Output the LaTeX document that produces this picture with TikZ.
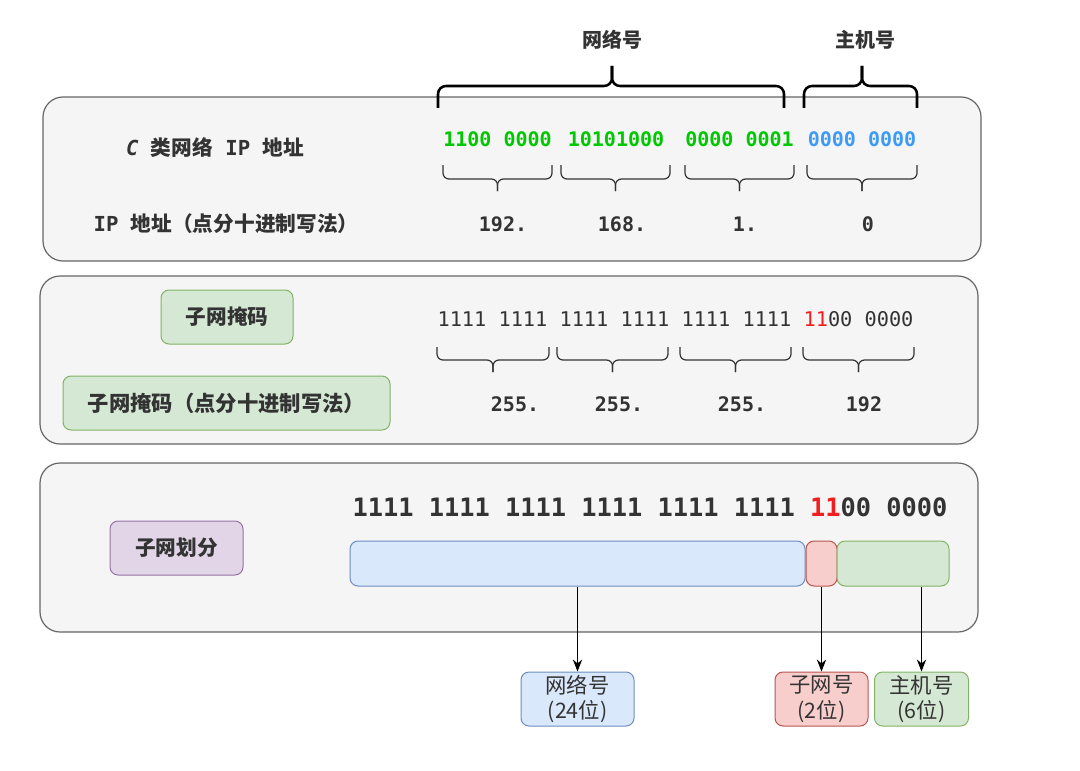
\documentclass[tikz,border=0pt]{standalone}
\usepackage{fontspec}
\setmainfont{Noto Sans CJK SC}
\newfontfamily\mono{DejaVu Sans Mono}
\usetikzlibrary{arrows.meta}
\definecolor{tdark}{HTML}{333333}
\definecolor{panelfill}{HTML}{F5F5F5}
\definecolor{paneldraw}{HTML}{666666}
\definecolor{gfill}{HTML}{D5E8D4}\definecolor{gdraw}{HTML}{82B366}
\definecolor{bfill}{HTML}{DAE8FC}\definecolor{bdraw}{HTML}{6C8EBF}
\definecolor{rfill}{HTML}{F8CECC}\definecolor{rdraw}{HTML}{B85450}
\definecolor{pfill}{HTML}{E1D5E7}\definecolor{pdraw}{HTML}{9673A6}
\definecolor{bitgreen}{HTML}{00C800}
\definecolor{bitblue}{HTML}{3D9BF5}
\definecolor{bitred}{HTML}{F01E1E}
\newdimen\px \px=0.75pt
\begin{document}
\begin{tikzpicture}[x=0.75pt,y=-0.75pt,
  panelbox/.style={draw=paneldraw,fill=panelfill,line width=0.9pt,rounded corners=15pt},
  boxbase/.style={rounded corners=6pt,line width=0.75pt,inner sep=0pt,text=tdark},
  gbox/.style={boxbase,draw=gdraw,fill=gfill},
  bbox/.style={boxbase,draw=bdraw,fill=bfill},
  rbox/.style={boxbase,draw=rdraw,fill=rfill},
  pbox/.style={boxbase,draw=pdraw,fill=pfill},
  lbl/.style={font=\fontsize{15}{18}\selectfont\bfseries,text=tdark,inner sep=0pt},
  lblb/.style={font=\fontsize{15.5}{18}\selectfont\bfseries,text=tdark,inner sep=0pt},
  reg/.style={font=\fontsize{16}{19}\selectfont,text=tdark,align=center,inner sep=0pt},
  bits/.style={font=\mono\fontsize{15}{18}\selectfont\bfseries,inner sep=0pt},
  maskbits/.style={font=\mono\fontsize{15.2}{18}\selectfont,text=tdark,inner sep=0pt},
  bigbits/.style={font=\mono\fontsize{19}{22}\selectfont\bfseries,text=tdark,inner sep=0pt},
  bigbrace/.style={draw=black,line width=1.9pt,rounded corners=6pt},
  smallbrace/.style={draw=tdark,line width=0.9pt,rounded corners=4.5pt},
  arr/.style={draw=black,line width=0.8pt,-{Stealth[length=9pt,width=7pt]}}
]
\useasboundingbox (0,0) rectangle (1080,770);
\fill[white] (0,0) rectangle (1080,770);

% panels
\draw[panelbox] (43,97) rectangle (981,261);
\draw[panelbox] (40,276) rectangle (978,444);
\draw[panelbox] (40,463) rectangle (978,632);

% top labels and braces
\node[lbl] (netlbl) at (612,40) {网络号};
\node[lbl] (hostlbl) at (865,40) {主机号};
\draw[bigbrace] (438,108) -- (438,86) -- (612,86) -- (612,66);
\draw[bigbrace] (784,108) -- (784,86) -- (612,86) -- (612,66);
\draw[bigbrace] (804,108) -- (804,86) -- (862,86) -- (862,66);
\draw[bigbrace] (917,108) -- (917,86) -- (862,86) -- (862,66);

% panel 1
\node[lblb] (cls) at (215,148) {{\mono\bfseries\itshape C }类网络{\mono\bfseries{} IP }地址};
\node[lblb] (dotted) at (226,224) {{\mono\bfseries IP }地址（点分十进制写法）};
\node[bits,text=bitgreen] (b1) at (497.5,139) {1100 0000};
\node[bits,text=bitgreen] (b2) at (616,139) {10101000};
\node[bits,text=bitgreen] (b3) at (739.5,139) {0000 0001};
\node[bits,text=bitblue] (b4) at (862,139) {0000 0000};
\foreach \a/\m/\b in {443/497.5/552, 561/615.5/670, 685/739.5/794, 807/862/917}{
  \draw[smallbrace] (\a,165) -- (\a,179) -- (\m,179) -- (\m,191);
  \draw[smallbrace] (\b,165) -- (\b,179) -- (\m,179) -- (\m,191);
}
\node[bits,text=tdark] (d1) at (503,224) {192.};
\node[bits,text=tdark] (d2) at (622,224) {168.};
\node[bits,text=tdark] (d3) at (745,224) {1.};
\node[bits,text=tdark] (d4) at (868,224) {0};

% panel 2
\node[gbox,lblb,minimum width=132*\px,minimum height=54*\px] (mask) at (227,317) {子网掩码};
\node[gbox,lblb,font=\fontsize{16}{19}\selectfont\bfseries,minimum width=327*\px,minimum height=54*\px] (maskdot) at (226.5,403) {子网掩码（点分十进制写法）};
\node[maskbits] (mbits) at (675.5,319) {1111 1111 1111 1111 1111 1111 {\color{bitred}11}00 0000};
\foreach \a/\m/\b in {437/493/549, 557/612.5/668, 680/735.5/791, 803/858.5/914}{
  \draw[smallbrace] (\a,347) -- (\a,360) -- (\m,360) -- (\m,372);
  \draw[smallbrace] (\b,347) -- (\b,360) -- (\m,360) -- (\m,372);
}
\node[bits,text=tdark] (m1) at (515,404) {255.};
\node[bits,text=tdark] (m2) at (619,404) {255.};
\node[bits,text=tdark] (m3) at (742,404) {255.};
\node[bits,text=tdark] (m4) at (864,404) {192};

% panel 3
\node[pbox,lblb,minimum width=133*\px,minimum height=54*\px] (split) at (176.5,548) {子网划分};
\node[bigbits] (sbits) at (650,507) {1111 1111 1111 1111 1111 1111 {\color{bitred}11}00 0000};
\node[bbox,minimum width=455*\px,minimum height=45*\px] (nbar) at (577.5,563.5) {};
\node[rbox,minimum width=31*\px,minimum height=45*\px] (sbar) at (821.5,563.5) {};
\node[gbox,minimum width=112*\px,minimum height=45*\px] (hbar) at (893,563.5) {};

% result boxes
\node[bbox,reg,minimum width=113*\px,minimum height=54*\px] (netbox) at (577.5,699) {网络号\\(24位)};
\node[rbox,reg,minimum width=93*\px,minimum height=54*\px] (subbox) at (821.5,699) {子网号\\(2位)};
\node[gbox,reg,minimum width=94*\px,minimum height=54*\px] (hostbox) at (921.5,699) {主机号\\(6位)};

\draw[arr] (nbar.south) -- (netbox.north);
\draw[arr] (sbar.south) -- (subbox.north);
\draw[arr] (hostbox.north |- hbar.south) -- (hostbox.north);
\end{tikzpicture}
\end{document}
